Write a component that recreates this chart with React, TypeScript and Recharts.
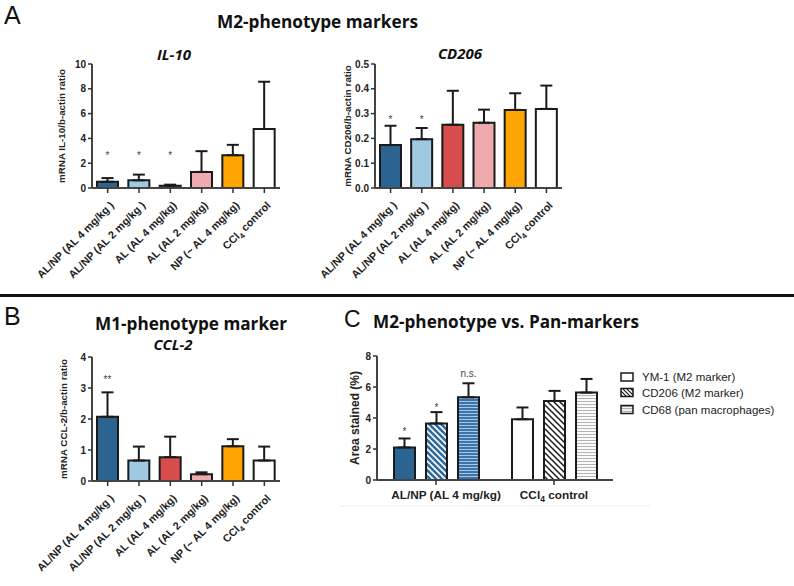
import React from "react";
import { Bar, BarChart, Cell, ErrorBar, LabelList, XAxis, YAxis } from "recharts";

const ARIAL = "'Liberation Sans', Arial, Helvetica, sans-serif";
const TITLE = "'Open Sans', 'Noto Sans', sans-serif";

// treatment groups (panels A and B)
const treatments = [
  "AL/NP (AL 4 mg/kg )",
  "AL/NP (AL 2 mg/kg )",
  "AL (AL 4 mg/kg)",
  "AL (AL 2 mg/kg)",
  "NP (~ AL 4 mg/kg)",
  "CCl4 control",
];
const barColors = ["#2b6491", "#9fc9e0", "#d74c4c", "#eeaaad", "#ffa500", "#ffffff"];

// A: IL-10
const il10Mean = [0.5, 0.62, 0.18, 1.3, 2.65, 4.76];
const il10Upper = [0.8, 1.08, 0.27, 2.97, 3.48, 8.57];
const il10Stars = ["*", "*", "*", "", "", ""];
const il10StarAt = [2.8, 2.8, 2.8, 0, 0, 0];
const il10Ticks = [0, 2, 4, 6, 8, 10];

// A: CD206
const cd206Mean = [0.173, 0.197, 0.255, 0.263, 0.315, 0.319];
const cd206Upper = [0.251, 0.242, 0.392, 0.316, 0.382, 0.413];
const cd206Stars = ["*", "*", "", "", "", ""];
const cd206StarAt = [0.287, 0.287, 0, 0, 0, 0];
const cd206Ticks = [0, 0.1, 0.2, 0.3, 0.4, 0.5];

// B: CCL-2
const ccl2Mean = [2.07, 0.66, 0.77, 0.22, 1.12, 0.66];
const ccl2Upper = [2.86, 1.11, 1.43, 0.28, 1.35, 1.11];
const ccl2Stars = ["**", "", "", "", "", ""];
const ccl2StarAt = [3.36, 0, 0, 0, 0, 0];
const ccl2Ticks = [0, 1, 2, 3, 4];

// C: area stained
const stainGroups = ["AL/NP (AL 4 mg/kg)", "CCl4 control"];
const ym1Mean = [2.1, 3.92];
const ym1Upper = [2.68, 4.68];
const cd206AreaMean = [3.65, 5.1];
const cd206AreaUpper = [4.38, 5.75];
const cd68Mean = [5.34, 5.64];
const cd68Upper = [6.24, 6.52];
const ym1Stars = ["*", ""];
const ym1StarAt = [3.26, 0];
const cd206AreaStars = ["*", ""];
const cd206AreaStarAt = [4.87, 0];
const cd68Stars = ["n.s.", ""];
const cd68StarAt = [6.93, 0];
const stainTicks = [0, 2, 4, 6, 8];
const legendLabels = ["YM-1 (M2 marker)", "CD206 (M2 marker)", "CD68 (pan macrophages)"];

const buildRows = (mean: number[], upper: number[]) =>
  treatments.map((name, i) => ({ name, mean: mean[i], err: [0, upper[i] - mean[i]] }));

const stainRows = stainGroups.map((name, i) => ({
  name,
  ym1: ym1Mean[i],
  ym1Err: [0, ym1Upper[i] - ym1Mean[i]],
  cd206: cd206AreaMean[i],
  cd206Err: [0, cd206AreaUpper[i] - cd206AreaMean[i]],
  cd68: cd68Mean[i],
  cd68Err: [0, cd68Upper[i] - cd68Mean[i]],
}));

const withSub = (label: string) =>
  label.startsWith("CCl4") ? (
    <>
      CCl<tspan fontSize="0.72em" dy={3}>4</tspan>
      <tspan dy={-3}>{label.slice(4)}</tspan>
    </>
  ) : (
    label
  );

const RotatedTick = (props: any) => {
  const { x, y, payload } = props;
  return (
    <g transform={`translate(${x + 7},${y + 11})`}>
      <text
        textAnchor="end"
        transform="rotate(-45)"
        fontSize={10.8}
        fontWeight={700}
        fill="#222"
        fontFamily={ARIAL}
      >
        {withSub(String(payload.value))}
      </text>
    </g>
  );
};

const GroupTick = (props: any) => {
  const { x, y, payload, index } = props;
  // the first group label sits a little right of its tick in the figure
  const shift = index === 0 ? 10 : 0;
  return (
    <text x={x + shift} y={y + 12} textAnchor="middle" fontSize={11.8} fontWeight={700} fill="#222" fontFamily={ARIAL}>
      {withSub(String(payload.value))}
    </text>
  );
};

// star / n.s. marks, placed at a value height using the bar's own pixel scale
const makeStarLabel = (stars: string[], starAt: number[]) => (props: any) => {
  const i = props.index;
  const text = stars[i];
  if (!text) return null;
  const vb = props.viewBox ?? props;
  const { x, y, width, height } = vb;
  const v = Number(props.value);
  if (!v || !height) return null;
  const cy = y + height - (starAt[i] / v) * height;
  const word = text === "n.s.";
  return (
    <text
      key={`s${i}`}
      x={x + width / 2}
      y={cy + (word ? 4 : 6)}
      textAnchor="middle"
      fontSize={10}
      fill="#444"
      fontFamily={ARIAL}
    >
      {text}
    </text>
  );
};

const axisTick = { fontSize: 10, fontWeight: 700, fill: "#222", fontFamily: ARIAL };

function MarkerChart(props: {
  left: number;
  top: number;
  width: number;
  height: number;
  mean: number[];
  upper: number[];
  stars: string[];
  starAt: number[];
  ticks: number[];
  fmt?: (v: number) => string;
  yLabel: string;
  yWidth: number;
  xHeight: number;
  labelX: number;
  margin: { top: number; right: number; left: number; bottom: number };
}) {
  const rows = buildRows(props.mean, props.upper);
  const max = props.ticks[props.ticks.length - 1];
  return (
    <div style={{ position: "absolute", left: props.left, top: props.top }}>
      <BarChart width={props.width} height={props.height} data={rows} margin={props.margin} barSize={21}>
        <XAxis
          dataKey="name"
          interval={0}
          height={props.xHeight}
          tick={<RotatedTick />}
          tickSize={5}
          tickLine={{ stroke: "#333", strokeWidth: 1.5 }}
          axisLine={{ stroke: "#444", strokeWidth: 2 }}
        />
        <YAxis
          width={props.yWidth}
          domain={[0, max]}
          ticks={props.ticks}
          allowDataOverflow
          tickFormatter={props.fmt}
          tick={axisTick}
          tickSize={4}
          tickMargin={2}
          tickLine={{ stroke: "#333", strokeWidth: 1.5 }}
          axisLine={{ stroke: "#444", strokeWidth: 2 }}
          label={{
            value: props.yLabel,
            angle: -90,
            position: "insideLeft",
            offset: props.labelX,
            style: { textAnchor: "middle", fontSize: 9.8, fontWeight: 700, fill: "#222", fontFamily: ARIAL },
          }}
        />
        <Bar dataKey="mean" stroke="#1a1a1a" strokeWidth={2} isAnimationActive={false}>
          {rows.map((r, i) => (
            <Cell key={r.name} fill={barColors[i]} />
          ))}
          <ErrorBar dataKey="err" width={6} strokeWidth={2} stroke="#1a1a1a" direction="y" />
          <LabelList dataKey="mean" content={makeStarLabel(props.stars, props.starAt)} />
        </Bar>
      </BarChart>
    </div>
  );
}

const Patterns = () => (
  <defs>
    <pattern id="diagBlue" patternUnits="userSpaceOnUse" width="6" height="6">
      <rect width="6" height="6" fill="#2f6a9c" />
      <path d="M0,0 L6,6 M-3,3 L3,9 M3,-3 L9,3" stroke="#ffffff" strokeWidth="1.6" />
    </pattern>
    <pattern id="horizBlue" patternUnits="userSpaceOnUse" width="6" height="3">
      <rect width="6" height="3" fill="#3b74aa" />
      <line x1="0" y1="1.5" x2="6" y2="1.5" stroke="#a9c6e2" strokeWidth="1" />
    </pattern>
    <pattern id="diagWhite" patternUnits="userSpaceOnUse" width="6" height="6">
      <rect width="6" height="6" fill="#ffffff" />
      <path d="M0,0 L6,6 M-3,3 L3,9 M3,-3 L9,3" stroke="#1a1a1a" strokeWidth="1.5" />
    </pattern>
    <pattern id="horizGray" patternUnits="userSpaceOnUse" width="6" height="3">
      <rect width="6" height="3" fill="#ffffff" />
      <line x1="0" y1="1.5" x2="6" y2="1.5" stroke="#b5b5b5" strokeWidth="1.1" />
    </pattern>
  </defs>
);

function StainChart() {
  const ym1Fill = [barColors[0], "#ffffff"];
  const cd206Fill = ["url(#diagBlue)", "url(#diagWhite)"];
  const cd68Fill = ["url(#horizBlue)", "url(#horizGray)"];
  return (
    <div style={{ position: "absolute", left: 300, top: 340 }}>
      <BarChart
        width={330}
        height={170}
        data={stainRows}
        margin={{ top: 16, right: 17, left: 0, bottom: 0 }}
        barSize={21}
        barGap={11}
      >
        <Patterns />
        <XAxis
          dataKey="name"
          height={30}
          tick={<GroupTick />}
          tickSize={5}
          tickLine={{ stroke: "#333", strokeWidth: 1.5 }}
          axisLine={{ stroke: "#444", strokeWidth: 2 }}
        />
        <YAxis
          width={77}
          domain={[0, 8]}
          ticks={stainTicks}
          allowDataOverflow
          tick={axisTick}
          tickSize={4}
          tickMargin={2}
          tickLine={{ stroke: "#333", strokeWidth: 1.5 }}
          axisLine={{ stroke: "#444", strokeWidth: 2 }}
          label={{
            value: "Area stained  (%)",
            angle: -90,
            position: "insideLeft",
            offset: 55,
            style: { textAnchor: "middle", fontSize: 12, fontWeight: 700, fill: "#222", fontFamily: ARIAL },
          }}
        />
        <Bar dataKey="ym1" stroke="#1a1a1a" strokeWidth={2} isAnimationActive={false}>
          {stainRows.map((r, i) => (
            <Cell key={r.name} fill={ym1Fill[i]} />
          ))}
          <ErrorBar dataKey="ym1Err" width={6} strokeWidth={2} stroke="#1a1a1a" direction="y" />
          <LabelList dataKey="ym1" content={makeStarLabel(ym1Stars, ym1StarAt)} />
        </Bar>
        <Bar dataKey="cd206" stroke="#1a1a1a" strokeWidth={2} isAnimationActive={false}>
          {stainRows.map((r, i) => (
            <Cell key={r.name} fill={cd206Fill[i]} />
          ))}
          <ErrorBar dataKey="cd206Err" width={6} strokeWidth={2} stroke="#1a1a1a" direction="y" />
          <LabelList dataKey="cd206" content={makeStarLabel(cd206AreaStars, cd206AreaStarAt)} />
        </Bar>
        <Bar dataKey="cd68" stroke="#1a1a1a" strokeWidth={2} isAnimationActive={false}>
          {stainRows.map((r, i) => (
            <Cell key={r.name} fill={cd68Fill[i]} />
          ))}
          <ErrorBar dataKey="cd68Err" width={6} strokeWidth={2} stroke="#1a1a1a" direction="y" />
          <LabelList dataKey="cd68" content={makeStarLabel(cd68Stars, cd68StarAt)} />
        </Bar>
      </BarChart>
    </div>
  );
}

function StainLegend() {
  const fills = ["#ffffff", "url(#lgDiag)", "url(#lgHoriz)"];
  const rowY = [377, 392.5, 409.5];
  return (
    <svg width={184} height={70} style={{ position: "absolute", left: 610, top: 360 }}>
      <defs>
        <pattern id="lgDiag" patternUnits="userSpaceOnUse" width="4" height="4">
          <rect width="4" height="4" fill="#fff" />
          <path d="M0,0 L4,4 M-2,2 L2,6 M2,-2 L6,2" stroke="#1a1a1a" strokeWidth="1.2" />
        </pattern>
        <pattern id="lgHoriz" patternUnits="userSpaceOnUse" width="4" height="2.5">
          <rect width="4" height="2.5" fill="#fff" />
          <line x1="0" y1="1.25" x2="4" y2="1.25" stroke="#999" strokeWidth="1" />
        </pattern>
      </defs>
      {legendLabels.map((label, i) => (
        <g key={label}>
          <rect x={11} y={rowY[i] - 360 - 4} width={12} height={8} fill={fills[i]} stroke="#1a1a1a" strokeWidth={1.5} />
          <text x={32} y={rowY[i] - 360 + 4} fontSize={11.5} fill="#222" fontFamily={ARIAL}>
            {label}
          </text>
        </g>
      ))}
    </svg>
  );
}

function Annotations() {
  return (
    <svg width={794} height={586} style={{ position: "absolute", left: 0, top: 0 }}>
      <text x={4} y={24} fontSize={25} fontFamily={ARIAL} fill="#111">A</text>
      <text x={4} y={325} fontSize={25} fontFamily={ARIAL} fill="#111">B</text>
      <text x={344} y={327} fontSize={23} fontFamily={ARIAL} fill="#111">C</text>
      <text x={217} y={28} fontSize={18} fontWeight={700} fontFamily={TITLE} fill="#111" textLength={201} lengthAdjust="spacingAndGlyphs">
        M2-phenotype markers
      </text>
      <text x={174} y={60} textAnchor="middle" fontSize={15} fontWeight={700} fontStyle="italic" fontFamily={TITLE} fill="#111">
        IL-10
      </text>
      <text x={460} y={59} textAnchor="middle" fontSize={15} fontWeight={700} fontStyle="italic" fontFamily={TITLE} fill="#111">
        CD206
      </text>
      <rect x={0} y={294} width={794} height={3} fill="#111" />
      <text x={95} y={330} fontSize={17} fontWeight={700} fontFamily={TITLE} fill="#111" textLength={192} lengthAdjust="spacingAndGlyphs">
        M1-phenotype marker
      </text>
      <text x={173} y={350} textAnchor="middle" fontSize={15} fontWeight={700} fontStyle="italic" fontFamily={TITLE} fill="#111">
        CCL-2
      </text>
      <text x={373} y={327.5} fontSize={17} fontWeight={700} fontFamily={TITLE} fill="#111" textLength={266} lengthAdjust="spacingAndGlyphs">
        M2-phenotype vs. Pan-markers
      </text>
      <line x1={340} y1={506} x2={650} y2={506} stroke="#ececec" strokeWidth={1} />
    </svg>
  );
}

export default function App() {
  return (
    <div style={{ position: "absolute", left: 0, top: 0, width: 794, height: 586, background: "#fff", overflow: "hidden" }}>
      <Annotations />
      <MarkerChart
        left={0}
        top={40}
        width={290}
        height={250}
        mean={il10Mean}
        upper={il10Upper}
        stars={il10Stars}
        starAt={il10StarAt}
        ticks={il10Ticks}
        yLabel="mRNA IL-10/b-actin ratio"
        yWidth={92}
        xHeight={102}
        labelX={62}
        margin={{ top: 24, right: 10, left: 0, bottom: 0 }}
      />
      <MarkerChart
        left={290}
        top={40}
        width={290}
        height={250}
        mean={cd206Mean}
        upper={cd206Upper}
        stars={cd206Stars}
        starAt={cd206StarAt}
        ticks={cd206Ticks}
        fmt={(v) => v.toFixed(1)}
        yLabel="mRNA CD206/b-actin ratio"
        yWidth={85}
        xHeight={102}
        labelX={58}
        margin={{ top: 24, right: 18, left: 0, bottom: 0 }}
      />
      <MarkerChart
        left={0}
        top={340}
        width={290}
        height={246}
        mean={ccl2Mean}
        upper={ccl2Upper}
        stars={ccl2Stars}
        starAt={ccl2StarAt}
        ticks={ccl2Ticks}
        yLabel="mRNA CCL-2/b-actin ratio"
        yWidth={92}
        xHeight={105}
        labelX={64}
        margin={{ top: 17, right: 10, left: 0, bottom: 0 }}
      />
      <StainChart />
      <StainLegend />
    </div>
  );
}
